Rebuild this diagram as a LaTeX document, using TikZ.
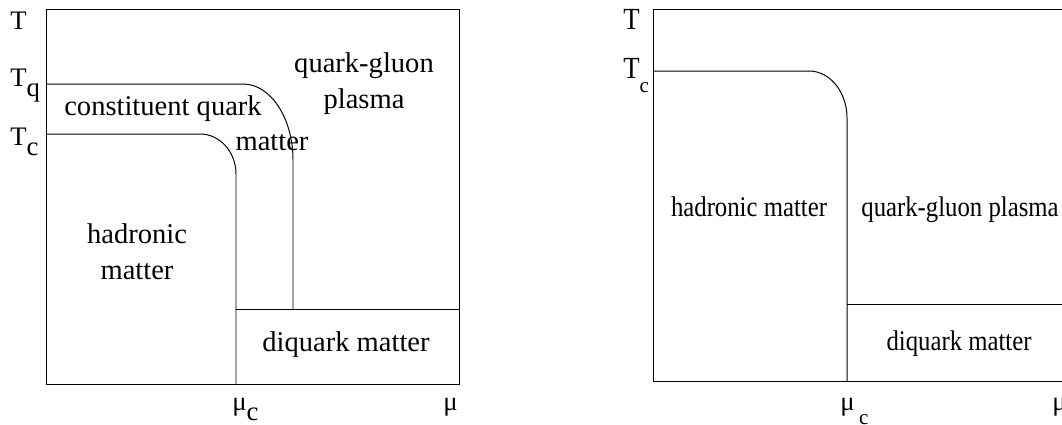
\documentclass[tikz,border=0pt]{standalone}
\usepackage{fontspec}
\setmainfont{Liberation Serif}
\usepackage{graphicx}
\usetikzlibrary{calc,positioning}

\newcommand{\lsub}[1]{\raisebox{-0.38em}{#1}}
\newcommand{\rsub}[1]{\raisebox{-0.55em}{\fontsize{15}{18}\selectfont #1}}
\newcommand{\tall}[1]{\scalebox{1}[1.15]{#1}}

\tikzset{
    phase/.style={line width=0.7pt},
    lbig/.style={font=\fontsize{20.3}{25.5}\selectfont, inner sep=0pt, align=center},
    rbig/.style={font=\fontsize{17.6}{22}\selectfont, inner sep=0pt},
    axlab/.style={font=\fontsize{19}{23}\selectfont, inner sep=0pt, anchor=base west}
}

\begin{document}
\begin{tikzpicture}[x=0.025cm,y=-0.025cm]
        \clip (0,0) rectangle (1062,424);

        % left diagram
        \coordinate (LO) at (46,384);
        \coordinate (LT) at (459,9);
        \coordinate (Lq) at (46,84);
        \coordinate (Lc) at (46,134);
        \coordinate (Lmu) at (236,384);

        \draw[phase] (LO) rectangle (LT);
        \draw[phase] (Lq) -- (243,84) arc[start angle=-90,end angle=0,x radius=50,y radius=76] -- (293,309);
        \draw[phase] (Lc) -- (200,134) arc[start angle=-90,end angle=0,x radius=36,y radius=40] -- (Lmu);
        \draw[phase] (236,309) -- (459,309);

        % two-line nodes sit on the baseline of their last line
        \node[lbig, anchor=base] (qgpL) at (364,108) {quark-gluon\\plasma};
        \node[lbig, anchor=base] (cqm) at (163,115) {constituent quark};
        \node[lbig, anchor=base] (cqmb) at (272,150) {matter};
        \node[lbig, anchor=base] (hadL) at (137,279) {hadronic\\matter};
        \node[lbig, anchor=base] (diqL) at (346,351) {diquark matter};

        % right diagram
        \coordinate (RO) at (653,381);
        \coordinate (RT) at (1100,9);
        \coordinate (Rc) at (653,71);
        \coordinate (Rmu) at (847,381);

        \draw[phase] (RO) rectangle (RT);
        \draw[phase] (Rc) -- (809,71) arc[start angle=-90,end angle=0,x radius=38,y radius=47] -- (Rmu);
        \draw[phase] (847,304) -- (1100,304);

        \node[rbig, anchor=base] (hadR) at (749,216) {\tall{hadronic matter}};
        \node[rbig, anchor=base] (qgpR) at (960,216) {\tall{quark-gluon plasma}};
        \node[rbig, anchor=base] (diqR) at (959,350) {\tall{diquark matter}};

        % axis labels
        \foreach \v/\x/\y/\t in
         {TL/10/29/T,
          TqL/10/86/T\lsub{q},
          TcL/10/145/T\lsub{c},
          muL/232/410/μ\lsub{c},
          mL/443/410/μ,
          TR/623/29/\tall{T},
          TcR/623/78/\tall{T}\rsub{c},
          muR/840/410/μ\,\rsub{c},
          mR/1052/410/μ
         }
         {
             \node[axlab] (\v) at (\x,\y) {\t};
         };
\end{tikzpicture}
\end{document}
